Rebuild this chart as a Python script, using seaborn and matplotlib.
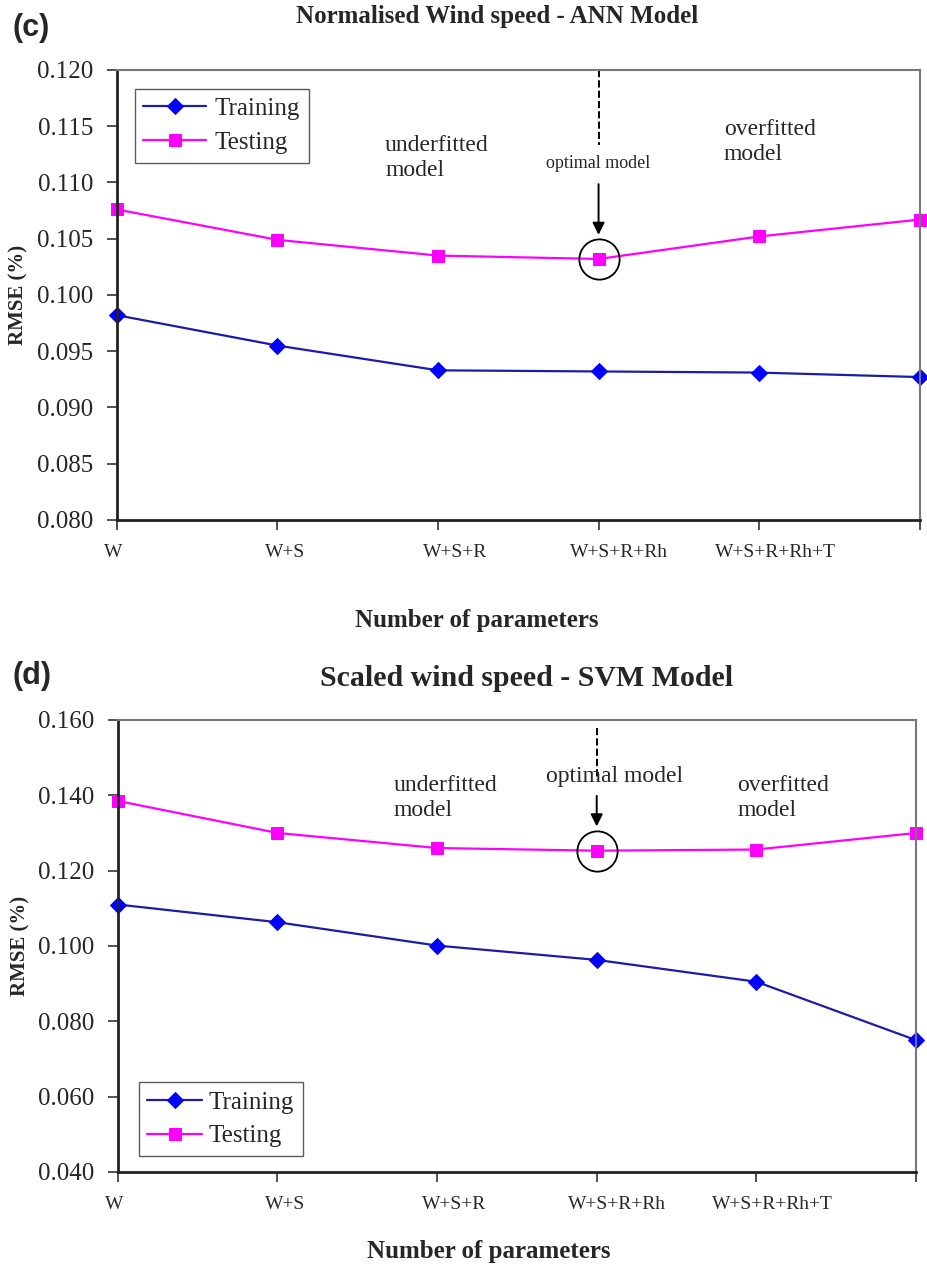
import numpy as np
import pandas as pd
import matplotlib
matplotlib.use("Agg")
import matplotlib.pyplot as plt
import matplotlib.transforms as mtransforms
import seaborn as sns

# ======================
# Data
# ======================
params = ['W', 'W+S', 'W+S+R', 'W+S+R+Rh', 'W+S+R+Rh+T', '']

ann_training = [0.0982, 0.0955, 0.0933, 0.0932, 0.0931, 0.0927]
ann_testing = [0.1076, 0.1049, 0.1035, 0.1032, 0.1052, 0.1067]

svm_training = [0.1110, 0.1063, 0.1001, 0.0963, 0.0905, 0.0750]
svm_testing = [0.1385, 0.1300, 0.1260, 0.1253, 0.1256, 0.1300]

optimal_idx = 3

sns.set_theme(style='white')
plt.rcParams['font.family'] = ['Liberation Serif', 'DejaVu Serif']

train_marker = '#0000FF'
train_line = '#1C1CA8'
test_color = '#FF00FF'

# small horizontal nudge (pixels) of the category labels, as in the original
label_shift = [-4, 8, 17, 20, 16, 0]


def draw_panel(fig, ax, training, testing, ylim, step):
    df = pd.DataFrame({
        'pos': list(range(len(params))) * 2,
        'rmse': training + testing,
        'set': ['Training'] * len(params) + ['Testing'] * len(params),
    })
    sns.lineplot(data=df[df['set'] == 'Training'], x='pos', y='rmse', ax=ax,
                 color=train_line, marker='D', markersize=8,
                 markerfacecolor=train_marker, markeredgecolor=train_marker,
                 linewidth=1.6, label='Training', clip_on=False)
    sns.lineplot(data=df[df['set'] == 'Testing'], x='pos', y='rmse', ax=ax,
                 color=test_color, marker='s', markersize=9,
                 markerfacecolor=test_color, markeredgecolor=test_color,
                 linewidth=1.6, label='Testing', clip_on=False)

    ax.set_xlim(0, len(params) - 1)
    ax.set_ylim(*ylim)
    ax.set_yticks(np.arange(ylim[0], ylim[1] + step / 2, step))
    ax.set_yticklabels(['{:.3f}'.format(v) for v in ax.get_yticks()],
                       fontsize=18)
    ax.set_xticks(range(len(params)))
    ax.set_xticklabels(params, fontsize=14)
    ax.tick_params(axis='x', direction='out', length=7, width=1.2, pad=10,
                   color='#333333', bottom=True)
    ax.tick_params(axis='y', direction='out', length=7, width=1.2, pad=10,
                   color='#333333', left=True)
    for lab, dx in zip(ax.get_xticklabels(), label_shift):
        lab.set_transform(lab.get_transform() + mtransforms.ScaledTranslation(
            dx / 100, 0, fig.dpi_scale_trans))

    for side in ['left', 'bottom']:
        ax.spines[side].set_color('#222222')
        ax.spines[side].set_linewidth(2)
    for side in ['top', 'right']:
        ax.spines[side].set_color('#777777')
        ax.spines[side].set_linewidth(1.5)

    ax.set_xlabel('Number of parameters', fontsize=18, fontweight='bold')
    ax.set_ylabel('RMSE (%)', fontsize=15, fontweight='bold')
    ax.yaxis.set_label_coords(-0.11, 0.5)

    # circle around the optimal model
    ax.plot([optimal_idx], [testing[optimal_idx]], marker='o', markersize=29,
            markerfacecolor='none', markeredgecolor='black',
            markeredgewidth=1.3, linestyle='none')


fig = plt.figure(figsize=(9.28, 12.7), dpi=100)
ax1 = fig.add_axes([0.126, 0.5906, 0.865, 0.3543])
ax2 = fig.add_axes([0.127, 0.0772, 0.860, 0.3559])

legend_kw = dict(fontsize=18, frameon=True, fancybox=False,
                 edgecolor='#333333', borderpad=0.35, labelspacing=0.45,
                 borderaxespad=0)

# ---- (c) ANN ----
draw_panel(fig, ax1, ann_training, ann_testing, (0.080, 0.120), 0.005)
ax1.xaxis.set_label_coords(0.448, -0.198)
ax1.legend(loc='upper left', bbox_to_anchor=(0.022, 0.958),
           handlelength=2.5, handletextpad=0.35, **legend_kw)
ax1.text(1.67, 0.1122, 'underfitted\nmodel', fontsize=17, va='center',
         ha='left', linespacing=1.25)
ax1.text(3.78, 0.1136, 'overfitted\nmodel', fontsize=17, va='center',
         ha='left', linespacing=1.25)
ax1.text(optimal_idx, 0.1117, 'optimal model', fontsize=13, ha='center',
         va='center')
ax1.plot([optimal_idx, optimal_idx], [0.120, 0.1133], color='black',
         linestyle='--', linewidth=1.4)
ax1.annotate('', xy=(optimal_idx, 0.1051), xytext=(optimal_idx, 0.1101),
             arrowprops=dict(arrowstyle='-|>', color='black', lw=1.4,
                             mutation_scale=18))

# ---- (d) SVM ----
draw_panel(fig, ax2, svm_training, svm_testing, (0.040, 0.160), 0.020)
ax2.xaxis.set_label_coords(0.465, -0.150)
ax2.legend(loc='lower left', bbox_to_anchor=(0.026, 0.035),
           handlelength=2.2, handletextpad=0.25, **legend_kw)
ax2.text(1.73, 0.1394, 'underfitted\nmodel', fontsize=17, va='center',
         ha='left', linespacing=1.25)
ax2.text(3.88, 0.1394, 'overfitted\nmodel', fontsize=17, va='center',
         ha='left', linespacing=1.25)
ax2.text(3.11, 0.1449, 'optimal model', fontsize=17, ha='center',
         va='center')
ax2.plot([optimal_idx, optimal_idx], [0.1579, 0.1440], color='black',
         linestyle='--', linewidth=1.4)
ax2.annotate('', xy=(optimal_idx, 0.1310), xytext=(optimal_idx, 0.1406),
             arrowprops=dict(arrowstyle='-|>', color='black', lw=1.4,
                             mutation_scale=18))

# titles and panel letters
fig.text(497 / 928, 0.987, 'Normalised Wind speed - ANN Model', fontsize=18,
         fontweight='bold', ha='center', va='center')
fig.text(527 / 928, 0.466, 'Scaled wind speed - SVM Model', fontsize=21.5,
         fontweight='bold', ha='center', va='center')
fig.text(0.013, 0.978, '(c)', fontsize=22, fontweight='bold',
         family=['Liberation Sans', 'DejaVu Sans'], va='center')
fig.text(0.013, 0.468, '(d)', fontsize=22, fontweight='bold',
         family=['Liberation Sans', 'DejaVu Sans'], va='center')

fig.savefig('out.png', dpi=100)
